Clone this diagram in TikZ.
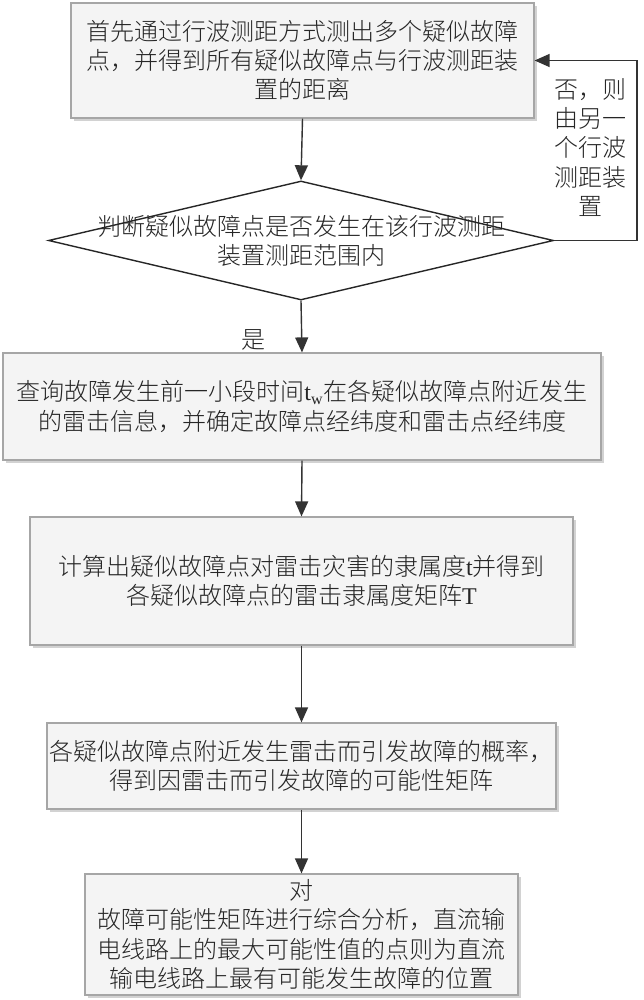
\documentclass[tikz,border=0pt]{standalone}
\usepackage{fontspec}
\setmainfont{Liberation Serif}
\IfFontExistsTF{Noto Sans CJK SC Light}
  {\newfontfamily\cjkfont{Noto Sans CJK SC Light}}
  {\newfontfamily\cjkfont{Noto Sans CJK SC}}
\usetikzlibrary{arrows.meta,shapes.geometric,shadows}
\newcommand\boxfont{\cjkfont\fontsize{12}{14.6}\selectfont}
\begin{document}
\begin{tikzpicture}[x=0.5pt,y=-0.5pt,
  box/.style={draw=gray!70, line width=0.6pt, fill=gray!9,
    drop shadow={shadow xshift=1.5pt,shadow yshift=-1.5pt,fill=gray!35,opacity=1},
    inner sep=0pt, align=center, font=\boxfont, text=black!85},
  dia/.style={draw=black!85, line width=0.7pt, shape=diamond, inner sep=0pt},
  txt/.style={inner sep=0pt, align=center, font=\boxfont, text=black!85},
  arr/.style={-{Triangle[length=7.5pt,width=6.5pt]}, line width=0.7pt, draw=black!80}]
\useasboundingbox (0,0) rectangle (643,1000);
\fill[white] (0,0) rectangle (643,1000);

\node[box, minimum width=231.5pt, minimum height=57.5pt] (b1) at (302.5,60.5)
  {首先通过行波测距方式测出多个疑似故障\\点，并得到所有疑似故障点与行波测距装\\置的距离};

\node[dia, minimum width=252.5pt, minimum height=59.5pt] (d) at (301,240.5) {};
\node[txt] (dt) at (301,240.5) {判断疑似故障点是否发生在该行波测距\\装置测距范围内};

\node[box, minimum width=299pt, minimum height=53.5pt] (b3) at (302,406.5)
  {查询故障发生前一小段时间{\rmfamily t\textsubscript{w}}在各疑似故障点附近发生\\的雷击信息，并确定故障点经纬度和雷击点经纬度};

\node[box, minimum width=271.5pt, minimum height=64pt] (b4) at (301.5,581)
  {计算出疑似故障点对雷击灾害的隶属度{\rmfamily t}并得到\\各疑似故障点的雷击隶属度矩阵{\rmfamily T}};

\node[box, minimum width=254.5pt, minimum height=43pt] (b5) at (301.5,766)
  {各疑似故障点附近发生雷击而引发故障的概率，\\得到因雷击而引发故障的可能性矩阵};

\node[box, minimum width=216.5pt, minimum height=60.5pt] (b6) at (301.5,934.5)
  {对\\故障可能性矩阵进行综合分析，直流输\\电线路上的最大可能性值的点则为直流\\输电线路上最有可能发生故障的位置};

\node[txt] (no) at (590,147.5) {否，则\\由另一\\个行波\\测距装\\置};
\node[txt] (yes) at (253,340) {是};

\coordinate (fr) at (637,240.5);
\draw[arr] (b1.south) -- (d.north);
\draw[arr] (d.south) -- (b3.north);
\draw[arr] (b3.south) -- (b4.north);
\draw[arr] (b4.south) -- (b5.north);
\draw[arr] (b5.south) -- (b6.north);
\draw[arr] (d.east) -- (fr) |- (b1.east);
\end{tikzpicture}
\end{document}
